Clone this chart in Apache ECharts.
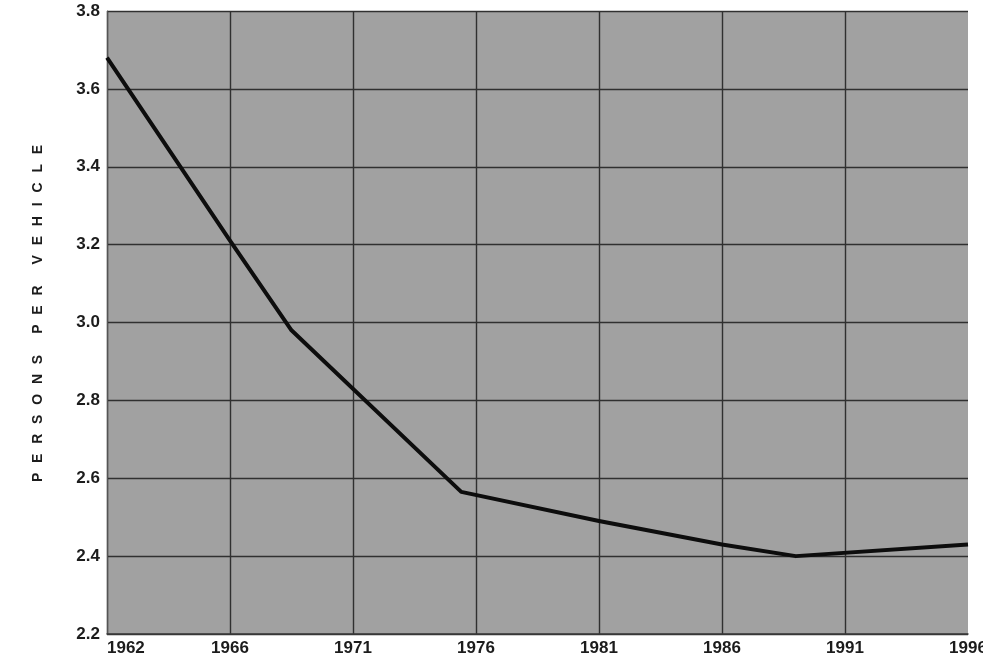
<!DOCTYPE html>
<html>
<head>
<meta charset="utf-8">
<style>
  html, body { margin: 0; padding: 0; background: #ffffff; overflow: hidden; }
  #chart { width: 983px; height: 659px; }
</style>
<script src="https://cdn.jsdelivr.net/npm/echarts@6/dist/echarts.min.js"></script>
</head>
<body>
<div id="chart"></div>
<script>
// Tick labels along the year axis (evenly spaced)
const yearTicks = ['1962', '1966', '1971', '1976', '1981', '1986', '1991', '1996'];
const tickYears = [1962, 1966, 1971, 1976, 1981, 1986, 1991, 1996];

// Persons per vehicle, by year
const years = [1962, 1966, 1968.5, 1975.4, 1981, 1986, 1989, 1996];
const personsPerVehicle = [3.68, 3.21, 2.98, 2.565, 2.49, 2.43, 2.40, 2.43];

// Value-axis ticks
const yMin = 2.2, yMax = 3.8, yStep = 0.2;

// Place a year on the evenly spaced tick scale (tick index units)
function yearToPos(y) {
  for (let i = 0; i < tickYears.length - 1; i++) {
    if (y <= tickYears[i + 1]) {
      return i + (y - tickYears[i]) / (tickYears[i + 1] - tickYears[i]);
    }
  }
  return tickYears.length - 1;
}

const seriesData = years.map((y, i) => [yearToPos(y), personsPerVehicle[i]]);

const chart = echarts.init(document.getElementById('chart'), null, { renderer: 'canvas' });

const tickFont = {
  color: '#1c1c1c',
  fontFamily: 'Liberation Sans, Arial, sans-serif',
  fontWeight: 'bold',
  fontSize: 17
};

// Letter-spaced axis title
const titleText = 'PERSONS PER VEHICLE'
  .split(' ')
  .map(w => w.split('').join('\u2002\u2009'))
  .join('\u2003\u2002');

chart.setOption({
  animation: false,
  backgroundColor: '#ffffff',
  grid: {
    left: 107, right: 15, top: 11, bottom: 25,
    outerBoundsMode: 'none',
    show: true,
    backgroundColor: '#a1a1a1',
    borderWidth: 0
  },
  xAxis: {
    type: 'value',
    min: 0,
    max: yearTicks.length - 1,
    interval: 1,
    axisLine: { show: true, lineStyle: { color: '#3a3a3a', width: 1.5 } },
    axisTick: { show: false },
    splitLine: { show: true, showMaxLine: false, lineStyle: { color: '#303030', width: 1.4 } },
    axisLabel: Object.assign({
      margin: 6,
      alignMinLabel: 'left',
      formatter: v => yearTicks[Math.round(v)] || ''
    }, tickFont)
  },
  yAxis: {
    type: 'value',
    min: yMin,
    max: yMax,
    interval: yStep,
    name: titleText,
    nameLocation: 'middle',
    nameGap: 62,
    nameRotate: 90,
    nameTextStyle: {
      color: '#1c1c1c',
      fontFamily: 'Liberation Sans, Arial, sans-serif',
      fontWeight: 'bold',
      fontSize: 14,
      padding: [0, 0, 0, 18]
    },
    axisLine: { show: true, lineStyle: { color: '#555555', width: 1.2 } },
    axisTick: { show: false },
    splitLine: { show: true, lineStyle: { color: '#303030', width: 1.4 } },
    axisLabel: Object.assign({
      margin: 7,
      formatter: v => v.toFixed(1)
    }, tickFont)
  },
  series: [{
    type: 'line',
    data: seriesData,
    symbol: 'none',
    lineStyle: { color: '#0d0d0d', width: 4, join: 'round' },
    z: 5
  }]
});
</script>
</body>
</html>
